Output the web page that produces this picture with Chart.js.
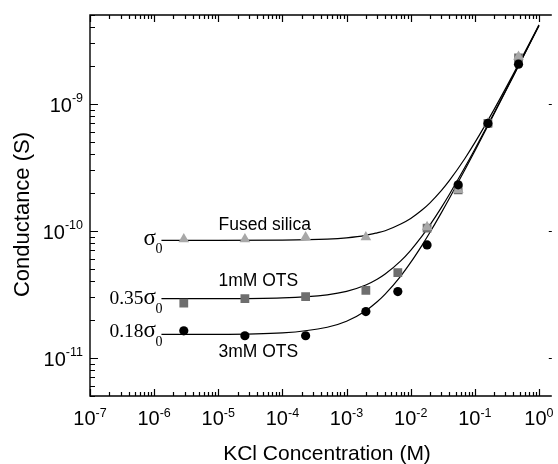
<!DOCTYPE html>
<html>
<head>
<meta charset="utf-8">
<script src="https://cdn.jsdelivr.net/npm/chart.js@4.4.1/dist/chart.umd.min.js"></script>
<style>body{margin:0;background:#fff}</style>
</head>
<body>
<canvas id="myChart" width="558" height="464"></canvas>
<script>
var ctx = document.getElementById('myChart');

// measured points (KCl concentration in M, conductance in S)
var concPts = [2.9e-6, 2.6e-5, 2.3e-4, 2.0e-3, 6.3e-3, 1.8e-2, 5.5e-2, 0.16, 0.48];
var fusedConc = [2.9e-6, 2.6e-5, 2.3e-4, 2.0e-3, 1.8e-2, 5.5e-2, 0.16, 0.48];
var fusedG = [8.6e-11, 8.6e-11, 8.9e-11, 8.9e-11, 1.07e-10, 2.1e-10, 7.0e-10, 2.35e-9];
var ots1G = [2.69e-11, 2.92e-11, 3.03e-11, 3.4e-11, 4.68e-11, 1.05e-10, 2.1e-10, 7.0e-10, 2.3e-9];
var ots3G = [1.63e-11, 1.49e-11, 1.49e-11, 2.31e-11, 3.32e-11, 7.73e-11, 2.3e-10, 7.0e-10, 2.05e-9];

// fit curves
var fitConc = [1.3e-6, 1e-5, 1e-4, 5e-4, 1e-3, 2e-3, 3e-3, 4e-3, 7e-3, 1e-2, 1.5e-2, 2e-2, 3e-2, 4e-2, 7e-2, 0.1, 0.2, 0.4, 0.7, 1.0];
var fusedFit = [8.4e-11, 8.4e-11, 8.44e-11, 8.6e-11, 8.8e-11, 9.2e-11, 9.63e-11, 1.0e-10, 1.13e-10, 1.25e-10, 1.455e-10, 1.66e-10, 2.07e-10, 2.48e-10, 3.71e-10, 4.94e-10, 9.04e-10, 1.72e-9, 2.95e-9, 4.18e-9];
var ots1Fit = [2.92e-11, 2.92e-11, 2.96e-11, 3.13e-11, 3.33e-11, 3.74e-11, 4.15e-11, 4.56e-11, 5.79e-11, 7.02e-11, 9.07e-11, 1.112e-10, 1.522e-10, 1.932e-10, 3.162e-10, 4.39e-10, 8.49e-10, 1.669e-9, 2.899e-9, 4.129e-9];
var ots3Fit = [1.53e-11, 1.53e-11, 1.57e-11, 1.74e-11, 1.94e-11, 2.35e-11, 2.76e-11, 3.17e-11, 4.40e-11, 5.63e-11, 7.68e-11, 9.73e-11, 1.383e-10, 1.793e-10, 3.023e-10, 4.253e-10, 8.35e-10, 1.655e-9, 2.885e-9, 4.115e-9];

// axis decades for labels
var xDecades = [-7, -6, -5, -4, -3, -2, -1, 0];
var yDecades = [-11, -10, -9];

function pts(xs, ys) {
  return xs.map(function (x, i) { return { x: x, y: ys[i] }; });
}

var SANS = '"Liberation Sans", Arial, sans-serif';
var SERIF = '"Liberation Serif", "Times New Roman", serif';

var axesPlugin = {
  id: 'axesPlugin',
  afterDraw: function (chart) {
    var c = chart.ctx, a = chart.chartArea;
    var xs = chart.scales.x, ys = chart.scales.y;
    c.save();
    c.strokeStyle = '#000';
    c.fillStyle = '#000';
    c.lineWidth = 1.4;
    c.beginPath();
    c.moveTo(a.right, a.top); c.lineTo(a.left, a.top);
    c.lineTo(a.left, a.bottom); c.lineTo(a.right, a.bottom);
    c.stroke();

    c.lineWidth = 1.2;
    c.beginPath();
    // x ticks
    for (var e = -7; e <= 0; e++) {
      for (var m = 1; m <= 9; m++) {
        var v = m * Math.pow(10, e);
        if (v < xs.min * 0.999 || v > xs.max) continue;
        var px = Math.round(xs.getPixelForValue(v)) + 0.5;
        var len = m === 1 ? 7 : 4;
        c.moveTo(px, a.bottom); c.lineTo(px, a.bottom - len);
        c.moveTo(px, a.top); c.lineTo(px, a.top + len);
      }
    }
    // y ticks
    for (var e2 = -12; e2 <= -9; e2++) {
      for (var m2 = 1; m2 <= 9; m2++) {
        var v2 = m2 * Math.pow(10, e2);
        if (v2 < ys.min * 0.999 || v2 > ys.max * 1.001) continue;
        var py = Math.round(ys.getPixelForValue(v2)) + 0.5;
        var len2 = m2 === 1 ? 8 : 5;
        c.moveTo(a.left, py); c.lineTo(a.left + len2, py);
        if (m2 === 1) { c.moveTo(a.right, py); c.lineTo(a.right - 3, py); }
      }
    }
    c.stroke();

    // tick labels
    function widths(base, sup) {
      c.font = '20px ' + SANS; var wb = c.measureText(base).width;
      c.font = '12.5px ' + SANS; var ws = c.measureText(sup).width;
      return [wb, ws];
    }
    c.textAlign = 'left';
    c.textBaseline = 'alphabetic';
    xDecades.forEach(function (d) {
      var sup = String(d), w = widths('10', sup);
      var x0 = xs.getPixelForValue(Math.pow(10, d)) - (w[0] + w[1]) / 2;
      c.font = '20px ' + SANS; c.fillText('10', x0, 425);
      c.font = '12.5px ' + SANS; c.fillText(sup, x0 + w[0], 416.5);
    });
    yDecades.forEach(function (d) {
      var sup = String(d), w = widths('10', sup);
      var y0 = ys.getPixelForValue(Math.pow(10, d));
      var x0 = 83 - (w[0] + w[1]);
      c.font = '20px ' + SANS; c.fillText('10', x0, y0 + 8);
      c.font = '12.5px ' + SANS; c.fillText(sup, x0 + w[0], y0 - 2);
    });

    // axis titles
    c.font = '21px ' + SANS;
    c.textAlign = 'center';
    c.fillText('KCl Concentration (M)', 327, 460);
    c.save();
    c.translate(23, 214.5);
    c.rotate(-Math.PI / 2);
    c.textBaseline = 'middle';
    c.font = '22px ' + SANS;
    c.fillText('Conductance (S)', 0, 0);
    c.restore();

    // curve labels
    c.textAlign = 'left';
    c.font = '17.5px ' + SANS;
    c.fillText('Fused silica', 218.5, 230);
    c.fillText('1mM OTS', 218.5, 285.7);
    c.fillText('3mM OTS', 218.5, 356.7);

    function sigma(num, base, subBase) {
      c.font = '14px ' + SERIF; var ws = c.measureText('0').width;
      c.font = '23px ' + SERIF; var wg = c.measureText('\u03c3').width;
      c.font = '19.5px ' + SERIF; var wn = c.measureText(num).width;
      var x0 = 163 - ws - wg - wn;
      c.fillText(num, x0, base);
      c.font = '23px ' + SERIF; c.fillText('\u03c3', x0 + wn, base);
      c.font = '14px ' + SERIF; c.fillText('0', x0 + wn + wg - 0.5, subBase);
    }
    sigma('', 245, 253);
    sigma('0.35', 304, 312.5);
    sigma('0.18', 337.3, 346);
    c.restore();
  }
};

var lineStyle = {
  showLine: true,
  pointRadius: 0,
  borderColor: '#000',
  borderWidth: 1.2,
  cubicInterpolationMode: 'monotone',
  fill: false
};

var data = {
  datasets: [
    { label: '3mM OTS', data: pts(concPts, ots3G), pointStyle: 'circle', pointRadius: 4.6,
      backgroundColor: '#000', borderWidth: 0, showLine: false },
    { label: 'Fused silica', data: pts(fusedConc, fusedG), pointStyle: 'triangle', pointRadius: 6.2,
      backgroundColor: '#a8a8a8', borderWidth: 0, showLine: false },
    { label: '1mM OTS', data: pts(concPts, ots1G), pointStyle: 'rect', pointRadius: 6.2,
      backgroundColor: '#6e6e6e', borderWidth: 0, showLine: false },
    Object.assign({ label: 'fit fused', data: pts(fitConc, fusedFit) }, lineStyle),
    Object.assign({ label: 'fit 1mM', data: pts(fitConc, ots1Fit) }, lineStyle),
    Object.assign({ label: 'fit 3mM', data: pts(fitConc, ots3Fit) }, lineStyle)
  ]
};

var options = {
  responsive: false,
  animation: false,
  devicePixelRatio: 1,
  layout: { padding: { left: 90, right: 0, top: 15, bottom: 68 } },
  scales: {
    x: { type: 'logarithmic', min: 1e-7, max: 1.585, display: false },
    y: { type: 'logarithmic', min: 5e-12, max: 5e-9, display: false }
  },
  plugins: {
    legend: { display: false },
    tooltip: { enabled: false }
  },
  elements: { point: { hoverRadius: 0 } }
};

var chart = new Chart(ctx, {
  type: 'scatter',
  data: data,
  options: options,
  plugins: [axesPlugin]
});
</script>
</body>
</html>
